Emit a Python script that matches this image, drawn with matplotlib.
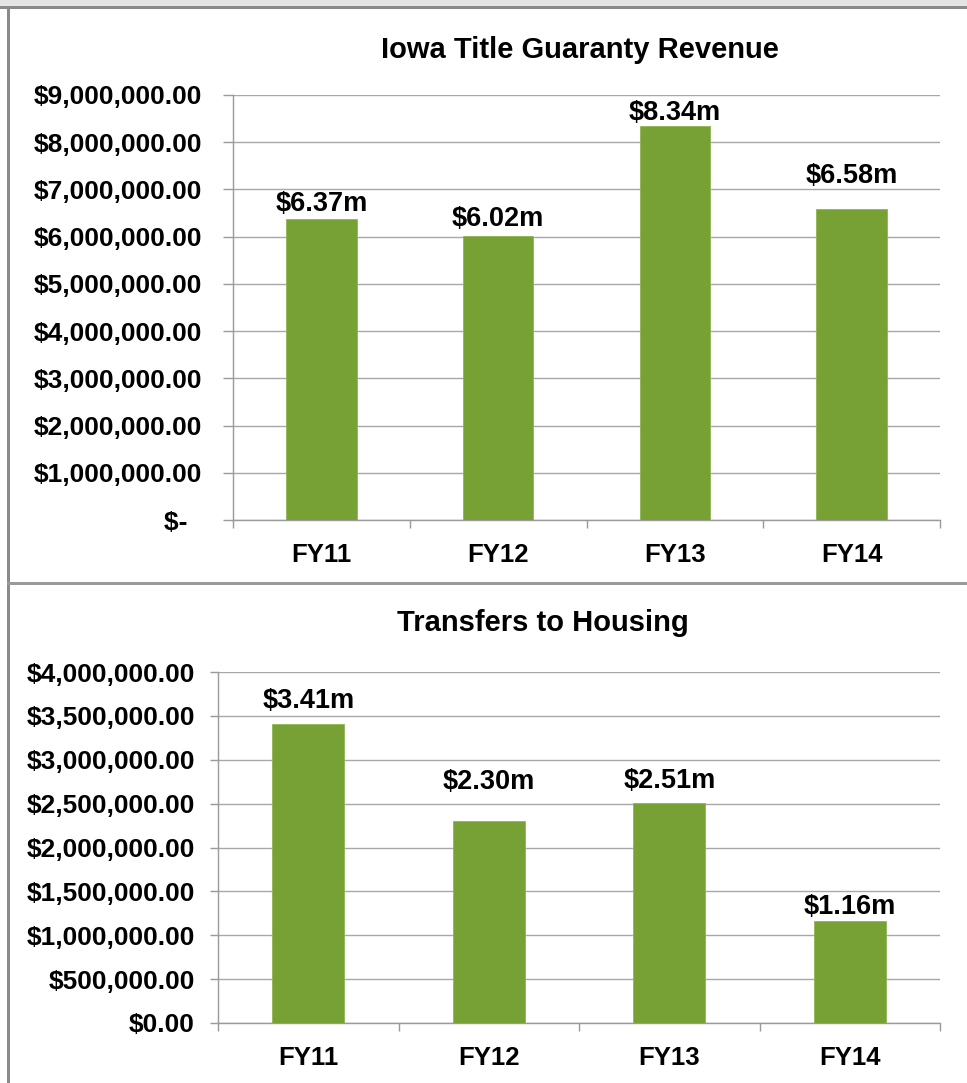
import matplotlib
matplotlib.use("Agg")
import matplotlib.pyplot as plt
from matplotlib.patches import Rectangle
from matplotlib.ticker import FuncFormatter, FixedLocator

years = ["FY11", "FY12", "FY13", "FY14"]
revenue = [6370000, 6020000, 8340000, 6580000]
revenue_labels = ["$6.37m", "$6.02m", "$8.34m", "$6.58m"]
transfers = [3410000, 2300000, 2510000, 1160000]
transfer_labels = ["$3.41m", "$2.30m", "$2.51m", "$1.16m"]

# hand-placed label gaps above the bars (pixels), as in the original sheet
revenue_gap = [2.6, 3.6, 0.6, 20.6]
transfer_gap = [9.6, 26.6, 8.6, 1.6]

plt.rcParams["font.family"] = ["Liberation Sans", "DejaVu Sans"]
plt.rcParams["font.weight"] = "bold"

W, H = 967, 1083
fig = plt.figure(figsize=(W / 100, H / 100), dpi=100)
PX = 72 / 100  # points per pixel

bar_color = "#77a135"
grid_color = "#a8a8a8"


def px_axes(left, top, right, bottom):
    return fig.add_axes([left / W, 1 - bottom / H, (right - left) / W, (bottom - top) / H])


def fmt_top(v, pos):
    if v == 0:
        return "$-  "
    return "${:,.2f}".format(v)


def fmt_bottom(v, pos):
    return "${:,.2f}".format(v)


def draw_chart(ax, values, labels, gaps, ymax, step, fmt, tick_len, tick_pad):
    x = list(range(len(years)))
    ax.bar(x, values, width=0.4, color=bar_color, edgecolor="#8fb553", linewidth=0.6, zorder=3)
    ax.set_xlim(-0.5, 3.5)
    ax.set_ylim(0, ymax)
    ax.yaxis.set_major_locator(FixedLocator([i * step for i in range(int(ymax / step) + 1)]))
    ax.yaxis.set_major_formatter(FuncFormatter(fmt))
    ax.grid(axis="y", color=grid_color, linewidth=1.4 * PX, zorder=0)
    ax.set_axisbelow(True)
    for s in ["top", "right"]:
        ax.spines[s].set_visible(False)
    for s in ["left", "bottom"]:
        ax.spines[s].set_color("#9a9a9a")
        ax.spines[s].set_linewidth(1.4 * PX)
    ax.tick_params(axis="y", length=tick_len * PX, width=1.4 * PX, color="#9a9a9a",
                   pad=tick_pad * PX, labelsize=19)
    ax.set_xticks(x)
    ax.set_xticklabels(years)
    ax.set_xticks([-0.5, 0.5, 1.5, 2.5, 3.5], minor=True)
    ax.tick_params(axis="x", which="major", length=0, pad=23 * PX, labelsize=18.5)
    ax.tick_params(axis="x", which="minor", length=8 * PX, width=1.4 * PX, color="#9a9a9a")
    for xi, v, lab, g in zip(x, values, labels, gaps):
        ax.annotate(lab, (xi, v), xytext=(0, g * PX), textcoords="offset points",
                    ha="center", va="bottom", fontsize=19.5, fontweight="bold")


ax1 = px_axes(233, 95, 940, 520)
draw_chart(ax1, revenue, revenue_labels, revenue_gap, 9000000, 1000000, fmt_top, 10, 21)

ax2 = px_axes(218, 672, 940, 1023)
draw_chart(ax2, transfers, transfer_labels, transfer_gap, 4000000, 500000, fmt_bottom, 8, 15)

fig.text(580 / W, 1 - 50 / H, "Iowa Title Guaranty Revenue", ha="center", va="center",
         fontsize=21, fontweight="bold")
fig.text(543 / W, 1 - 623 / H, "Transfers to Housing", ha="center", va="center",
         fontsize=21, fontweight="bold")

# frame around the two charts
fig.patches.append(Rectangle((0, 1 - 6 / H), 1, 6 / H, transform=fig.transFigure,
                             facecolor="#e4e4e4", edgecolor="none"))
fig.patches.append(Rectangle((0, 1 - 8.5 / H), 1, 2.5 / H, transform=fig.transFigure,
                             facecolor="#8a8a8a", edgecolor="none"))
fig.patches.append(Rectangle((7 / W, 0), 2.5 / W, 1 - 8.5 / H, transform=fig.transFigure,
                             facecolor="#8a8a8a", edgecolor="none"))
fig.patches.append(Rectangle((7 / W, 1 - 585 / H), 1, 3 / H, transform=fig.transFigure,
                             facecolor="#9a9a9a", edgecolor="none"))

fig.savefig("out.png", dpi=100)
